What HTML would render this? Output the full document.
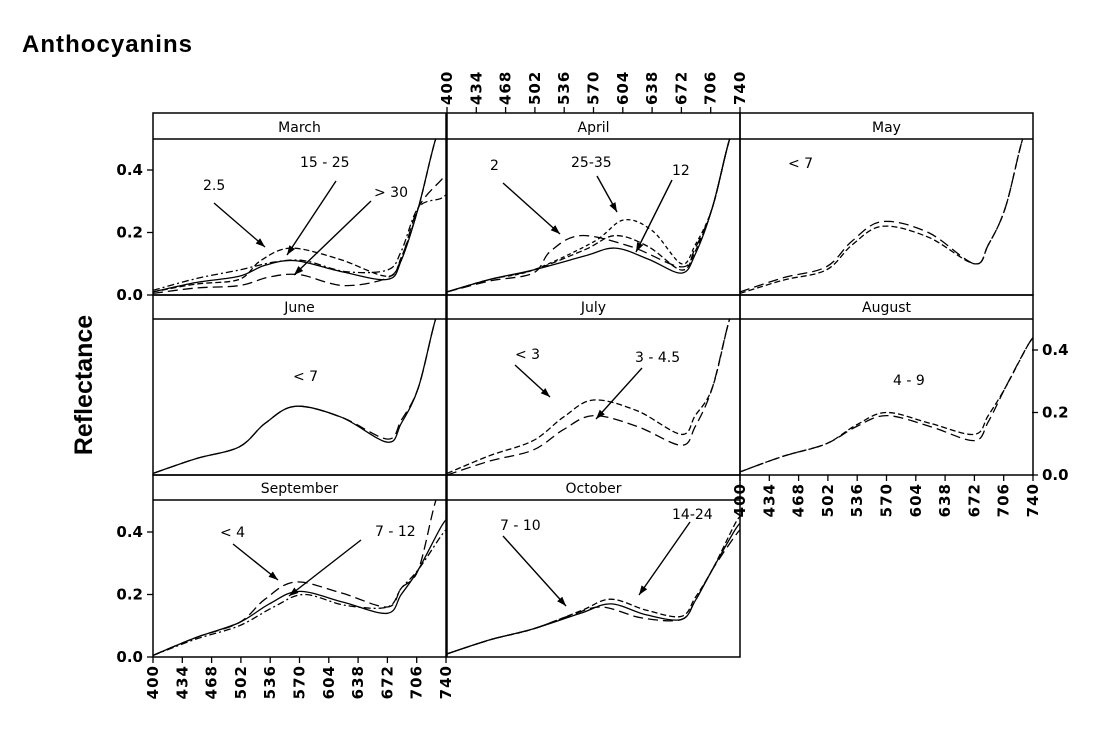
<!DOCTYPE html>
<html><head><meta charset="utf-8"><style>
body{margin:0;background:#fff;}
svg text{font-family:"DejaVu Sans","Liberation Sans",sans-serif;}
</style></head><body>
<svg id="s" width="1101" height="740" xmlns="http://www.w3.org/2000/svg">
<text x="22" y="52" font-size="24" font-weight="bold" textLength="170" style="font-family:'Liberation Sans',sans-serif">Anthocyanins</text>
<text transform="translate(92,385) rotate(-90)" text-anchor="middle" font-size="25" font-weight="bold" style="font-family:'Liberation Sans',sans-serif">Reflectance</text>
</svg>
<script>
const S=document.getElementById('s');let h='<defs>';
const cols=[153,447,740],W=293;
const rows=[{t:113,s:139,b:295},{t:295,s:319,b:475},{t:475,s:500,b:657}];
for(let c=0;c<3;c++)for(let r=0;r<3;r++)h+=`<clipPath id="c${c}${r}"><rect x="${cols[c]}" y="${rows[r].s}" width="${W}" height="${rows[r].b-rows[r].s}"/></clipPath>`;
h+='</defs>';
function X(c,w){return cols[c]+(w-400)/340*W}
function Y(r,v){return rows[r].b-v*312.5}
function cr(pts){let d='M'+pts[0][0].toFixed(1)+' '+pts[0][1].toFixed(1);
for(let i=0;i<pts.length-1;i++){const p0=pts[Math.max(0,i-1)],p1=pts[i],p2=pts[i+1],p3=pts[Math.min(pts.length-1,i+2)];
d+=' C'+(p1[0]+(p2[0]-p0[0])/6).toFixed(1)+' '+(p1[1]+(p2[1]-p0[1])/6).toFixed(1)+' '+(p2[0]-(p3[0]-p1[0])/6).toFixed(1)+' '+(p2[1]-(p3[1]-p1[1])/6).toFixed(1)+' '+p2[0].toFixed(1)+' '+p2[1].toFixed(1);}return d}
function curve(c,r,pk,pw,dp,st,hi,end,dash){
 const ex=end>0.47?[[728,0.5],[745,0.62]]:[[735,end-0.03],[745,end]];
 const p=[[400,st],[450,(hi+st)/2+0.005],[500,hi],[pw-35,(hi+pk)/2+0.01],[pw,pk],[(pw+672)/2,pk-0.035],[672,dp],[688,dp+0.06],[708,0.28],...ex];
 const pts=p.map(q=>[X(c,q[0]),Y(r,q[1])]);
 h+=`<path clip-path="url(#c${c}${r})" d="${cr(pts)}" fill="none" stroke="#000" stroke-width="1.3" stroke-dasharray="${dash}"/>`;}
const D=['','6,3','10,5','7,3,2,3','4,3'];
curve(0,0,0.11,565,0.05,0.01,0.06,0.5,D[0]);
curve(0,0,0.15,560,0.06,0.01,0.05,0.48,D[1]);
curve(0,0,0.11,575,0.08,0.015,0.08,0.34,D[3]);
curve(0,0,0.065,570,0.055,0.005,0.03,0.40,D[2]);
curve(1,0,0.15,595,0.07,0.01,0.08,0.5,D[0]);
curve(1,0,0.19,595,0.08,0.01,0.08,0.5,D[1]);
curve(1,0,0.24,605,0.10,0.01,0.08,0.5,D[4]);
curve(1,0,0.19,555,0.09,0.01,0.07,0.5,D[2]);
curve(2,0,0.235,565,0.10,0.01,0.09,0.5,D[2]);
curve(2,0,0.22,565,0.10,0.005,0.08,0.5,D[1]);
curve(0,1,0.22,565,0.105,0.005,0.09,0.5,D[0]);
curve(0,1,0.22,565,0.115,0.005,0.09,0.5,D[2]);
curve(1,1,0.24,570,0.13,0.005,0.11,0.5,D[1]);
curve(1,1,0.19,570,0.095,0.0,0.08,0.5,D[2]);
curve(2,1,0.20,570,0.13,0.01,0.10,0.45,D[1]);
curve(2,1,0.19,570,0.11,0.01,0.10,0.45,D[2]);
curve(0,2,0.24,565,0.16,0.005,0.11,0.5,D[2]);
curve(0,2,0.21,570,0.14,0.005,0.11,0.45,D[0]);
curve(0,2,0.20,575,0.16,0.005,0.10,0.42,D[3]);
curve(1,2,0.17,590,0.12,0.01,0.09,0.44,D[0]);
curve(1,2,0.185,590,0.13,0.01,0.09,0.46,D[1]);
curve(1,2,0.16,580,0.12,0.01,0.09,0.42,D[2]);
const panels=[[0,0,'March'],[1,0,'April'],[2,0,'May'],[0,1,'June'],[1,1,'July'],[2,1,'August'],[0,2,'September'],[1,2,'October']];
for(const [c,r,n] of panels){const R=rows[r],x=cols[c];
 h+=`<rect x="${x}" y="${R.t}" width="${W}" height="${R.b-R.t}" fill="none" stroke="#000" stroke-width="1.5"/><line x1="${x}" x2="${x+W}" y1="${R.s}" y2="${R.s}" stroke="#000" stroke-width="1.5"/><text x="${x+W/2}" y="${R.s-7}" text-anchor="middle" font-size="14">${n}</text>`;}
const wl=[400,434,468,502,536,570,604,638,672,706,740];
function xaxis(c,y,dir){for(const w of wl){const x=X(c,w);h+=`<line x1="${x}" x2="${x}" y1="${y}" y2="${y+dir*6}" stroke="#000" stroke-width="1.3"/>`;
 if(dir>0)h+=`<text transform="translate(${x+5},${y+8}) rotate(-90)" text-anchor="end" font-size="15" font-weight="bold" letter-spacing="1">${w}</text>`;
 else h+=`<text transform="translate(${x+5},${y-8}) rotate(-90)" text-anchor="start" font-size="15" font-weight="bold" letter-spacing="1">${w}</text>`;}}
xaxis(0,657,1);xaxis(1,113,-1);xaxis(2,475,1);
function yaxis(r,x,dir){for(const v of [0,0.2,0.4]){const y=Y(r,v);h+=`<line x1="${x}" x2="${x+dir*6}" y1="${y}" y2="${y}" stroke="#000" stroke-width="1.3"/>`;
 h+=`<text x="${x+dir*10}" y="${y+5}" text-anchor="${dir<0?'end':'start'}" font-size="15" font-weight="bold">${v.toFixed(1)}</text>`;}}
yaxis(0,153,-1);yaxis(2,153,-1);yaxis(1,1032,1);
function t(x,y,s){h+=`<text x="${x}" y="${y}" font-size="14">${s}</text>`}
function a(x1,y1,x2,y2){const ang=Math.atan2(y2-y1,x2-x1),L=10,k=0.35;
 h+=`<line x1="${x1}" y1="${y1}" x2="${x2}" y2="${y2}" stroke="#000" stroke-width="1.4"/><path d="M${x2} ${y2} L${x2-L*Math.cos(ang-k)} ${y2-L*Math.sin(ang-k)} L${x2-L*Math.cos(ang+k)} ${y2-L*Math.sin(ang+k)}Z"/>`;}
t(203,190,'2.5');a(214,203,265,247);
t(300,167,'15 - 25');a(336,181,287,255);
t(374,197,'&gt; 30');a(371,201,294,275);
t(490,170,'2');a(503,183,560,234);
t(571,167,'25-35');a(597,176,617,212);
t(672,175,'12');a(672,180,636,252);
t(788,168,'&lt; 7');
t(293,381,'&lt; 7');
t(515,359,'&lt; 3');a(515,365,550,397);
t(635,362,'3 - 4.5');a(642,368,596,419);
t(893,385,'4 - 9');
t(220,537,'&lt; 4');a(233,544,278,580);
t(375,536,'7 - 12');a(361,540,289,596);
t(500,530,'7 - 10');a(503,536,566,606);
t(672,519,'14-24');a(690,522,639,595);
S.insertAdjacentHTML('beforeend',h);
</script>
</body></html>
